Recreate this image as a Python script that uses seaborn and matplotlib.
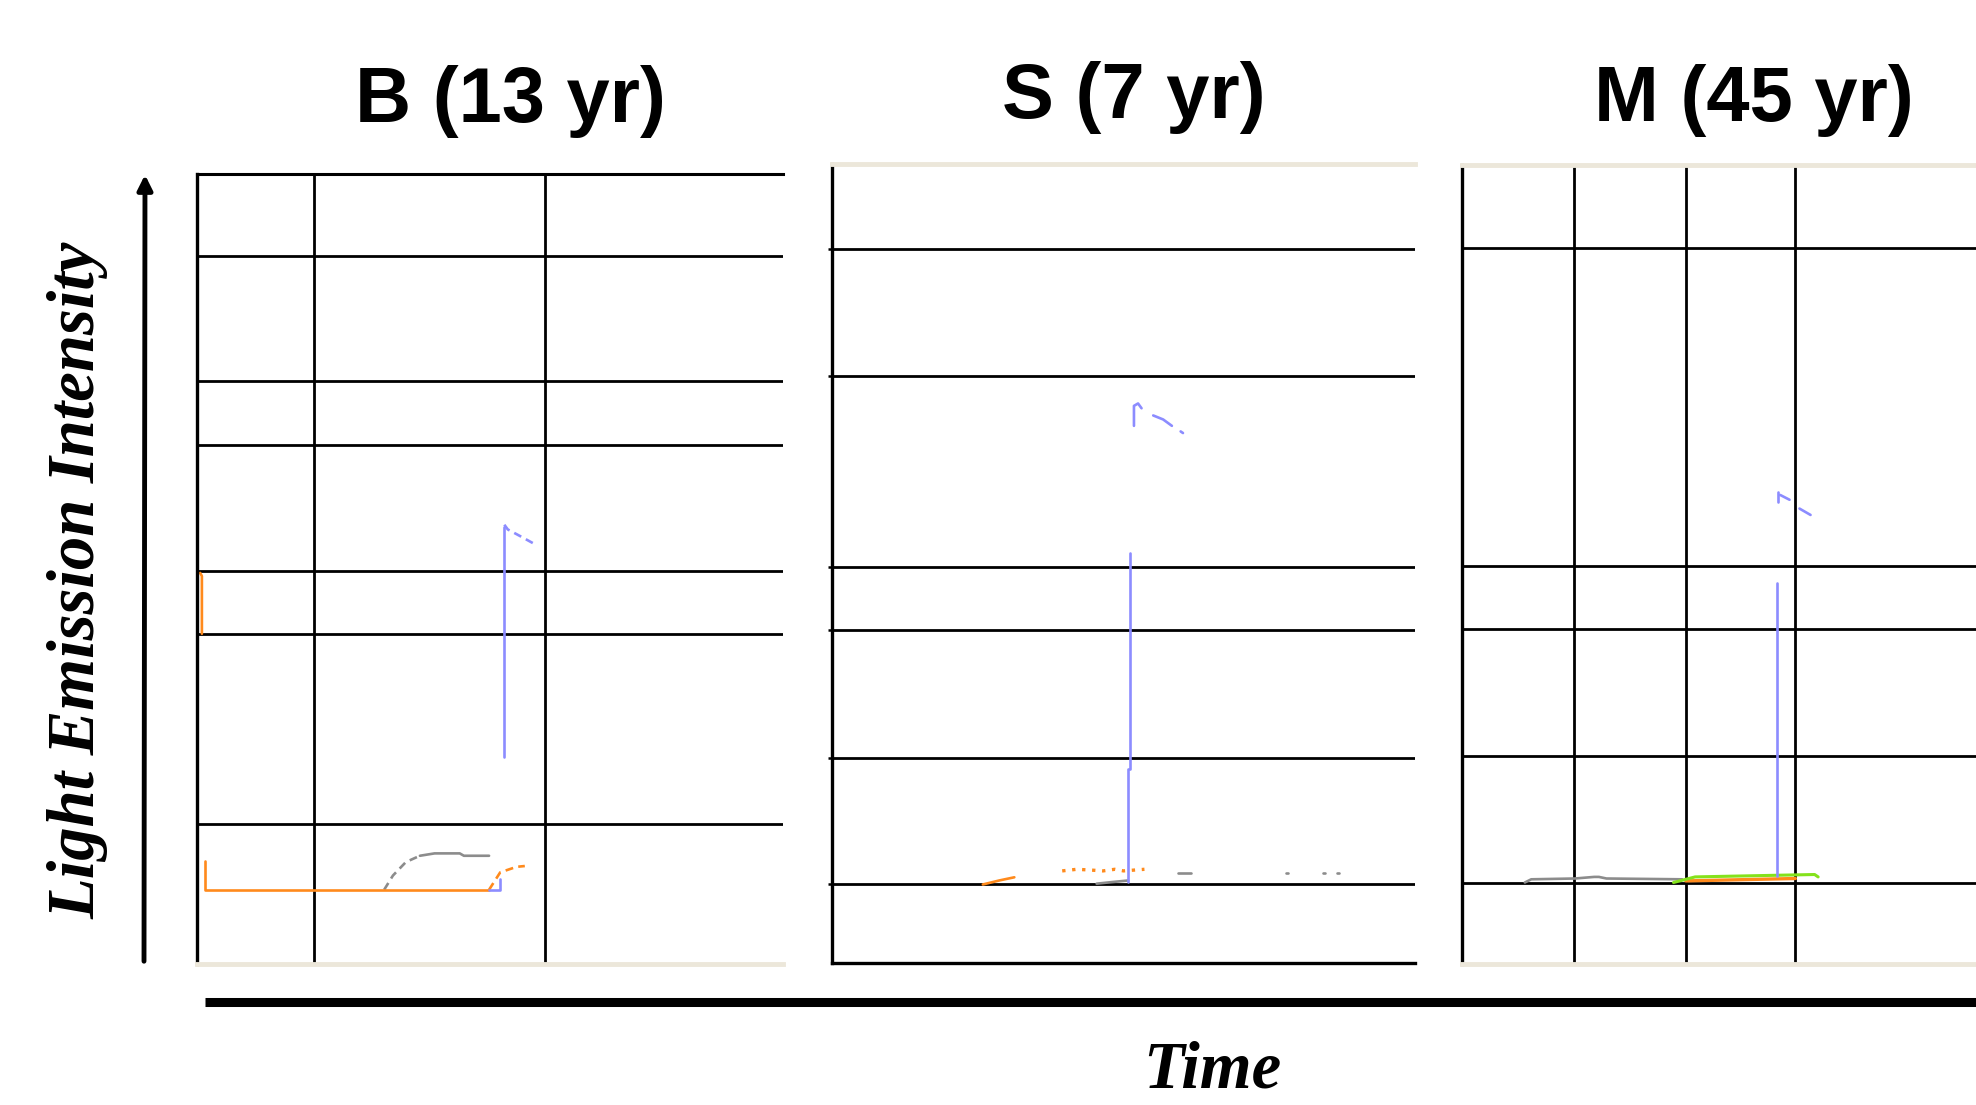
"""
Light emission traces for three subjects — redrawn panel figure.
"""

import numpy as np
import pandas as pd
import matplotlib
matplotlib.use('Agg')
import matplotlib.pyplot as plt
import seaborn as sns

sns.set_style('white')
plt.rcParams['font.family'] = ['Liberation Sans', 'DejaVu Sans']
plt.rcParams['text.color'] = 'black'

# ── Data (panel units: time 0-100, intensity 0-100) ───────────────────────────
titles = ['B (13 yr)', 'S (7 yr)', 'M (45 yr)']

# gridline positions per panel
b_hgrid = [89.6, 73.8, 65.7, 49.8, 41.8, 17.7]
b_vgrid = [20.0, 59.4]
s_hgrid = [89.3, 73.5, 49.5, 41.6, 25.6, 9.8]
s_vgrid = []
m_hgrid = [89.6, 49.8, 41.9, 26.0, 10.2]
m_vgrid = [19.2, 38.4, 57.2]

# panel B traces
b_orange_t = [0.6, 0.9, 0.9, np.nan, 1.5, 1.5, 49.9]
b_orange_i = [49.5, 49.1, 41.8, np.nan, 13.1, 9.4, 9.4]
b_orange_tail_t = [49.9, 51.8, 54.6, 56.0]
b_orange_tail_i = [9.4, 11.6, 12.3, 12.4]
b_gray_rise_t = [32.0, 33.5, 35.7, 38.1]
b_gray_rise_i = [9.4, 11.2, 12.9, 13.7]
b_gray_t = [38.1, 40.6, 44.9, 45.6, 49.9]
b_gray_i = [13.7, 14.0, 14.0, 13.7, 13.7]
b_blue_t = [52.5, 52.5, np.nan, 49.9, 51.8, 51.8]
b_blue_i = [26.2, 55.3, np.nan, 9.4, 9.4, 10.8]
b_blue_tail_t = [52.5, 53.1, 55.1, 57.8]
b_blue_tail_i = [55.6, 55.0, 54.2, 53.1]

# panel S traces
s_blue_t = [50.8, 50.8, 51.2, 51.2, np.nan, 51.8, 51.8, 52.5, 53.1]
s_blue_i = [10.1, 24.3, 24.3, 51.3, np.nan, 67.2, 69.7, 70.0, 69.4]
s_blue_tail_t = [55.1, 56.8, 58.3, np.nan, 59.8, 60.2]
s_blue_tail_i = [68.5, 68.0, 67.2, np.nan, 66.5, 66.3]
s_orange_t = [25.9, 28.7, 31.3]
s_orange_i = [9.8, 10.3, 10.7]
s_orange_dot_t = [39.5, 42.0, 44.5, 46.5, 48.5, 50.0, 53.6]
s_orange_dot_i = [11.5, 11.7, 11.6, 11.5, 11.7, 11.5, 11.7]
s_gray_t = [45.4, 48.0, 50.8, np.nan, 59.4, 61.6, np.nan, 77.8, 78.2, np.nan, 84.2, 84.6, np.nan, 86.6, 87.0]
s_gray_i = [9.9, 10.1, 10.3, np.nan, 11.2, 11.2, np.nan, 11.2, 11.2, np.nan, 11.2, 11.2, np.nan, 11.2, 11.2]

# panel M traces
m_blue_t = [54.0, 54.0, np.nan, 54.2, 54.2, np.nan, 54.6, 56.2, np.nan, 57.9, 59.8]
m_blue_i = [11.0, 47.7, np.nan, 57.8, 59.1, np.nan, 58.7, 58.1, np.nan, 57.0, 56.2]
m_gray_t = [10.8, 11.9, 19.4, 22.7, 23.5, 24.8, 37.8]
m_gray_i = [10.2, 10.6, 10.7, 10.9, 10.9, 10.7, 10.6]
m_orange_t = [38.4, 57.2]
m_orange_i = [10.4, 10.7]
m_green_t = [36.3, 40.0, 60.5, 61.1]
m_green_i = [10.2, 10.9, 11.2, 10.9]

ORANGE = '#ff8a1c'
BLUE = '#8c8cff'
GRAY = '#8c8c8c'
GREEN = '#84e21c'
BEIGE = '#ece7da'


def segs(t, i):
    """split NaN-separated trace into units for seaborn"""
    df = pd.DataFrame({'t': t, 'i': i})
    df['seg'] = df['t'].isna().cumsum()
    return df.dropna()


def trace(ax, t, i, color, ls='-', lw=1.9):
    d = segs(t, i)
    sns.lineplot(data=d, x='t', y='i', units='seg', estimator=None, sort=False,
                 color=color, lw=lw, linestyle=ls, ax=ax, legend=False)


fig = plt.figure(figsize=(19.76, 11.05), dpi=100)

# ── Panels ────────────────────────────────────────────────────────────────────
panels = [
    dict(rect=[0.0995, 0.1276, 0.2966, 0.7150], h=b_hgrid, v=b_vgrid,
         top='black', bottom=BEIGE),
    dict(rect=[0.4209, 0.1287, 0.2953, 0.7231], h=s_hgrid, v=s_vgrid,
         top=BEIGE, bottom='black'),
    dict(rect=[0.7398, 0.1276, 0.2951, 0.7231], h=m_hgrid, v=m_vgrid,
         top=BEIGE, bottom=BEIGE),
]
axes = []
for p in panels:
    ax = fig.add_axes(p['rect'])
    ax.set_xlim(0, 100)
    ax.set_ylim(0, 100)
    for y in p['h']:
        ax.axhline(y, color='black', lw=2.0, zorder=1)
    for x in p['v']:
        ax.axvline(x, color='black', lw=2.0, zorder=1)
    ax.spines['left'].set_color('black')
    ax.spines['left'].set_linewidth(2.4)
    ax.spines['right'].set_visible(False)
    ax.spines['top'].set_color(p['top'])
    ax.spines['top'].set_linewidth(2.2 if p['top'] == 'black' else 3.5)
    ax.spines['bottom'].set_color(p['bottom'])
    ax.spines['bottom'].set_linewidth(2.4 if p['bottom'] == 'black' else 3.5)
    ax.set_xticks([])
    ax.set_yticks([])
    axes.append(ax)

# small outward ticks on the S panel
axes[1].set_yticks(s_hgrid)
axes[1].set_yticklabels([])
axes[1].tick_params(axis='y', direction='out', length=3, width=1.8, color='black', left=True)

# panel B
ax = axes[0]
trace(ax, b_gray_rise_t, b_gray_rise_i, GRAY, ls=(0, (3, 2)))
trace(ax, b_gray_t, b_gray_i, GRAY)
trace(ax, b_orange_t, b_orange_i, ORANGE)
trace(ax, b_orange_tail_t, b_orange_tail_i, ORANGE, ls=(0, (3, 2)))
trace(ax, b_blue_t, b_blue_i, BLUE)
trace(ax, b_blue_tail_t, b_blue_tail_i, BLUE, ls=(0, (3, 2)))

# panel S
ax = axes[1]
trace(ax, s_gray_t, s_gray_i, GRAY)
trace(ax, s_orange_t, s_orange_i, ORANGE)
trace(ax, s_orange_dot_t, s_orange_dot_i, ORANGE, ls=(0, (1, 2)), lw=2.4)
trace(ax, s_blue_t, s_blue_i, BLUE)
trace(ax, s_blue_tail_t, s_blue_tail_i, BLUE)

# panel M
ax = axes[2]
trace(ax, m_gray_t, m_gray_i, GRAY)
trace(ax, m_orange_t, m_orange_i, ORANGE, lw=2.4)
trace(ax, m_green_t, m_green_i, GREEN, lw=2.2)
trace(ax, m_blue_t, m_blue_i, BLUE)

for ax in axes:
    ax.set_xlim(0, 100)
    ax.set_ylim(0, 100)
    ax.set_xlabel('')
    ax.set_ylabel('')
    ax.set_xticks([])

# ── Titles & axis annotations ─────────────────────────────────────────────────
W, H = 1976, 1105
title_pos = [(510, 122), (1134, 118), (1754, 121)]
for txt, (x, y) in zip(titles, title_pos):
    fig.text(x / W, 1 - y / H, txt, ha='center', va='baseline',
             fontsize=56, fontweight='bold', color='black')

serif = ['Liberation Serif', 'DejaVu Serif']
fig.text(78 / W, 1 - 580 / H, 'Light Emission Intensity', rotation=90,
         ha='center', va='center', fontsize=48, fontweight='bold',
         fontstyle='italic', family=serif, color='black')
fig.text(1212 / W, 1 - 1102 / H, 'Time', ha='center', va='bottom',
         fontsize=48, fontweight='bold', fontstyle='italic', family=serif,
         color='black')

# vertical arrow
fig.patches.append(matplotlib.patches.FancyArrowPatch(
    (144 / W, 1 - 964 / H), (145 / W, 1 - 172 / H),
    transform=fig.transFigure, arrowstyle='-|>', mutation_scale=22,
    lw=3.5, color='black'))

# thick time bar
fig.add_artist(matplotlib.lines.Line2D([205 / W, 1.0], [1 - 1002 / H, 1 - 1002 / H],
                                       transform=fig.transFigure, color='black',
                                       lw=6.5, solid_capstyle='butt'))

plt.savefig('out.png', dpi=100)
plt.close()
